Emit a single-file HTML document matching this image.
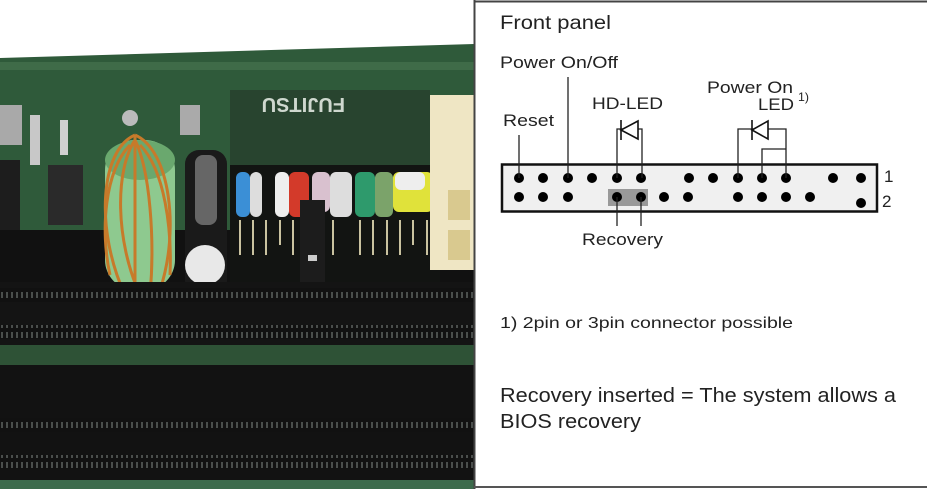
<!DOCTYPE html>
<html><head><meta charset="utf-8"><style>
html,body{margin:0;padding:0;background:#fff}
svg{display:block}
text{font-family:"Liberation Sans",Arial,sans-serif;fill:#222}
</style></head><body>
<svg width="927" height="489" viewBox="0 0 927 489" xmlns="http://www.w3.org/2000/svg">
<defs>
<pattern id="rib" width="5" height="10" patternUnits="userSpaceOnUse">
<rect width="5" height="10" fill="#111"/><rect x="1" y="2" width="2" height="6" fill="#4a4e4c"/>
</pattern>
</defs>
<!-- photo -->
<rect x="0" y="0" width="474" height="489" fill="#fff"/>
<polygon points="0,58 474,44 474,489 0,489" fill="#2f5a3a"/>
<rect x="0" y="62" width="474" height="8" fill="#3f6b48"/>
<rect x="230" y="90" width="200" height="75" fill="#28442f"/>
<rect x="0" y="230" width="474" height="52" fill="#111"/>
<rect x="230" y="165" width="210" height="117" fill="#121412"/>
<rect x="0" y="105" width="22" height="40" fill="#a9a9a9"/>
<rect x="0" y="160" width="20" height="70" fill="#1d1d1d"/>
<rect x="48" y="165" width="35" height="60" fill="#2a2a2a"/>
<rect x="30" y="115" width="10" height="50" fill="#c8c8c8"/>
<rect x="60" y="120" width="8" height="35" fill="#d0d0d0"/>
<rect x="105" y="140" width="70" height="150" rx="30" fill="#8ec98f"/>
<ellipse cx="140" cy="160" rx="35" ry="20" fill="#6aa86e"/>
<g stroke="#c77a2a" stroke-width="3" fill="none">
<path d="M135,135 C100,150 95,230 125,295"/><path d="M135,140 C115,170 115,240 140,295"/>
<path d="M135,135 C170,150 180,230 160,290"/><path d="M135,140 C150,170 155,240 150,295"/>
<path d="M135,135 L135,290"/><path d="M130,145 C105,170 100,230 110,275"/><path d="M140,145 C165,170 172,230 170,275"/>
</g>
<circle cx="130" cy="118" r="8" fill="#bbb"/>
<rect x="185" y="150" width="42" height="145" rx="14" fill="#1a1a1a"/>
<rect x="195" y="155" width="22" height="70" rx="8" fill="#666"/>
<circle cx="205" cy="265" r="20" fill="#e8e8e8"/>
<rect x="180" y="105" width="20" height="30" fill="#aaa"/>
<rect x="236" y="172" width="14" height="45" rx="6" fill="#3b8fd6"/>
<rect x="250" y="172" width="12" height="45" rx="6" fill="#ddd"/>
<rect x="275" y="172" width="14" height="45" rx="6" fill="#eee"/>
<rect x="289" y="172" width="20" height="45" rx="6" fill="#d33a2a"/>
<rect x="312" y="172" width="18" height="40" rx="6" fill="#d9c1cf"/>
<rect x="330" y="172" width="22" height="45" rx="6" fill="#ddd"/>
<rect x="355" y="172" width="20" height="45" rx="6" fill="#2e9a6c"/>
<rect x="375" y="172" width="18" height="45" rx="6" fill="#7ba36a"/>
<rect x="393" y="172" width="40" height="40" rx="6" fill="#e0e23a"/>
<rect x="395" y="172" width="30" height="18" rx="6" fill="#eee"/>
<g stroke="#c9c2a0" stroke-width="2">
<line x1="240" y1="220" x2="240" y2="255"/><line x1="253" y1="220" x2="253" y2="255"/><line x1="266" y1="220" x2="266" y2="255"/>
<line x1="280" y1="220" x2="280" y2="245"/><line x1="293" y1="220" x2="293" y2="255"/><line x1="333" y1="220" x2="333" y2="255"/>
<line x1="360" y1="220" x2="360" y2="255"/><line x1="373" y1="220" x2="373" y2="255"/><line x1="387" y1="220" x2="387" y2="255"/>
<line x1="400" y1="220" x2="400" y2="255"/><line x1="413" y1="220" x2="413" y2="245"/><line x1="427" y1="220" x2="427" y2="255"/>
</g>
<rect x="300" y="200" width="25" height="120" fill="#1c1c1c"/>
<rect x="308" y="255" width="9" height="6" fill="#ccc"/>
<rect x="430" y="95" width="44" height="175" fill="#efe6c4"/>
<rect x="448" y="190" width="22" height="30" fill="#d9c98f"/><rect x="448" y="230" width="22" height="30" fill="#d9c98f"/>
<text x="345" y="118" transform="rotate(180 345 108)" style="font-size:20px;fill:#cfd8cf;font-weight:bold">FUJITSU</text>
<rect x="0" y="282" width="474" height="63" fill="#141414"/>
<rect x="0" y="288" width="474" height="14" fill="url(#rib)"/>
<rect x="0" y="325" width="474" height="14" fill="url(#rib)"/>
<rect x="0" y="345" width="474" height="20" fill="#2e5236"/>
<rect x="0" y="365" width="474" height="115" fill="#121212"/>
<rect x="0" y="418" width="474" height="14" fill="url(#rib)"/>
<rect x="0" y="455" width="474" height="14" fill="url(#rib)"/>
<rect x="0" y="480" width="474" height="9" fill="#3c6b4c"/>
<!-- panel -->
<rect x="474" y="0" width="453" height="489" fill="#fff"/>
<line x1="474.5" y1="0" x2="474.5" y2="489" stroke="#444" stroke-width="2"/>
<line x1="474" y1="1.5" x2="927" y2="1.5" stroke="#444" stroke-width="2"/>
<line x1="474" y1="487" x2="927" y2="487" stroke="#555" stroke-width="2"/>
<text x="500" y="29" textLength="111" lengthAdjust="spacingAndGlyphs" style="font-size:19px">Front panel</text>
<text x="500" y="68" textLength="118" lengthAdjust="spacingAndGlyphs" style="font-size:17px">Power On/Off</text>
<text x="592" y="109" textLength="71" lengthAdjust="spacingAndGlyphs" style="font-size:17px">HD-LED</text>
<text x="503" y="126" textLength="51" lengthAdjust="spacingAndGlyphs" style="font-size:17px">Reset</text>
<text x="707" y="93" textLength="86" lengthAdjust="spacingAndGlyphs" style="font-size:17px">Power On</text>
<text x="758" y="110" textLength="36" lengthAdjust="spacingAndGlyphs" style="font-size:17px">LED</text>
<text x="798" y="101" textLength="11" lengthAdjust="spacingAndGlyphs" style="font-size:12px">1)</text>
<rect x="502" y="164.5" width="375" height="47" fill="#f0f0f0" stroke="#111" stroke-width="2.5"/>
<rect x="608" y="189" width="40" height="17" fill="#999"/>
<text x="884" y="182" style="font-size:17px">1</text>
<text x="882" y="207" style="font-size:17px">2</text>
<g fill="#000">
<circle cx="519" cy="178" r="5"/><circle cx="543" cy="178" r="5"/><circle cx="568" cy="178" r="5"/><circle cx="592" cy="178" r="5"/><circle cx="617" cy="178" r="5"/><circle cx="641" cy="178" r="5"/><circle cx="689" cy="178" r="5"/><circle cx="713" cy="178" r="5"/><circle cx="738" cy="178" r="5"/><circle cx="762" cy="178" r="5"/><circle cx="786" cy="178" r="5"/><circle cx="833" cy="178" r="5"/><circle cx="861" cy="178" r="5"/>
<circle cx="519" cy="197" r="5"/><circle cx="543" cy="197" r="5"/><circle cx="568" cy="197" r="5"/><circle cx="617" cy="197" r="5"/><circle cx="641" cy="197" r="5"/><circle cx="664" cy="197" r="5"/><circle cx="688" cy="197" r="5"/><circle cx="738" cy="197" r="5"/><circle cx="762" cy="197" r="5"/><circle cx="786" cy="197" r="5"/><circle cx="810" cy="197" r="5"/><circle cx="861" cy="203" r="5"/>
</g>
<g stroke="#222" stroke-width="1.3" fill="none">
<line x1="519" y1="135" x2="519" y2="178"/>
<line x1="568" y1="77" x2="568" y2="178"/>
<polyline points="617,178 617,129 642,129 642,178"/>
<polyline points="738,178 738,129 786,129 786,178"/>
<polyline points="762,178 762,149 786,149"/>
<line x1="617" y1="197" x2="617" y2="226"/><line x1="641" y1="197" x2="641" y2="226"/>
</g>
<g stroke="#111" stroke-width="1.6" fill="#fff">
<polygon points="621,130 638,121 638,139"/><line x1="621" y1="120" x2="621" y2="140"/>
<polygon points="752,130 768,121 768,139"/><line x1="752" y1="120" x2="752" y2="140"/>
</g>
<text x="582" y="245" textLength="81" lengthAdjust="spacingAndGlyphs" style="font-size:17px">Recovery</text>
<text x="500" y="328" textLength="293" lengthAdjust="spacingAndGlyphs" style="font-size:16px">1) 2pin or 3pin connector possible</text>
<text x="500" y="402" textLength="396" lengthAdjust="spacingAndGlyphs" style="font-size:20px">Recovery inserted = The system allows a</text>
<text x="500" y="428" textLength="141" lengthAdjust="spacingAndGlyphs" style="font-size:20px">BIOS recovery</text>
</svg>
</body></html>
